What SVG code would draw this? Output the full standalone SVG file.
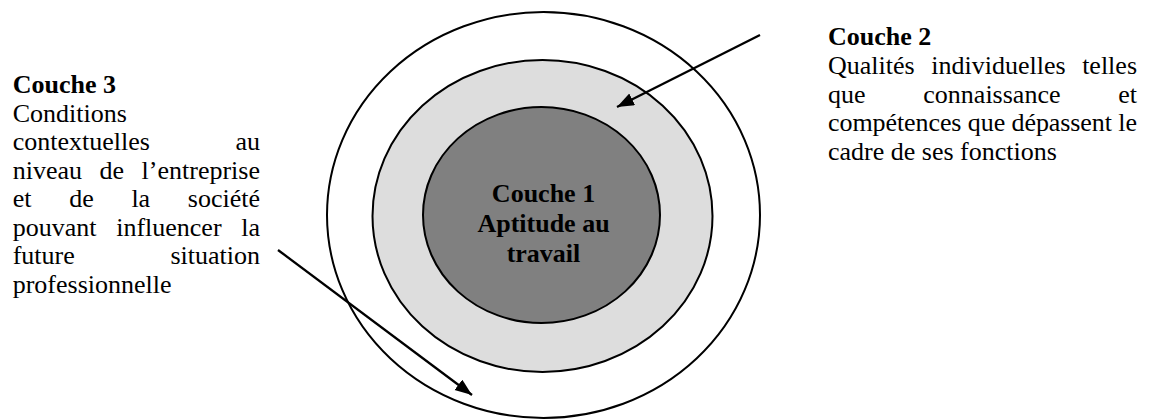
<svg xmlns="http://www.w3.org/2000/svg" width="1156" height="419" viewBox="0 0 1156 419">
  <style>
    .ring { stroke: #000; stroke-width: 2; }
    .txt { font-family: "Liberation Serif", "Times New Roman", serif; font-size: 26px; fill: #000; }
    .b { font-weight: bold; }
    .conn { stroke: #000; stroke-width: 2.3; fill: none; }
  </style>
  <defs>
    <marker id="arrowhead" markerUnits="userSpaceOnUse" markerWidth="18" markerHeight="14" refX="17" refY="6.5" orient="auto">
      <path d="M0,0 L17,6.5 L0,13 Z" fill="#000"/>
    </marker>
  </defs>

  <!-- Layer 3: outer ring -->
  <g id="couche3-ring">
    <ellipse class="ring" cx="543.5" cy="215" rx="216.5" ry="203" fill="#fff"/>
  </g>

  <!-- Layer 2: middle ring -->
  <g id="couche2-ring">
    <ellipse class="ring" cx="542.5" cy="216" rx="170" ry="156" fill="#dddddd"/>
  </g>

  <!-- Layer 1: core -->
  <g id="couche1">
    <ellipse class="ring" cx="541.5" cy="215" rx="118.5" ry="108" fill="#808080"/>
    <text class="txt b" text-anchor="middle" x="543.5" y="202">Couche 1</text>
    <text class="txt b" text-anchor="middle" x="543.5" y="232">Aptitude au</text>
    <text class="txt b" text-anchor="middle" x="543.5" y="262">travail</text>
  </g>

  <!-- Connectors -->
  <g id="connectors">
    <line class="conn" x1="760" y1="35" x2="617" y2="107" marker-end="url(#arrowhead)"/>
    <line class="conn" x1="278" y1="250" x2="472" y2="395" marker-end="url(#arrowhead)"/>
  </g>

  <!-- Layer 3 description (justified block) -->
  <g id="couche3-label" class="txt">
    <text class="b" x="12.7" y="93">Couche 3</text>
    <text x="12.7" y="121.5">Conditions</text>
    <text x="12.7" y="150">contextuelles</text>
    <text x="260" y="150" text-anchor="end">au</text>
    <text x="12.7" y="178.5">niveau</text>
    <text x="99.6" y="178.5">de</text>
    <text x="260" y="178.5" text-anchor="end">l’entreprise</text>
    <text x="12.7" y="207">et</text>
    <text x="69.2" y="207">de</text>
    <text x="131.4" y="207">la</text>
    <text x="260" y="207" text-anchor="end">société</text>
    <text x="12.7" y="235.5">pouvant</text>
    <text x="116.2" y="235.5">influencer</text>
    <text x="260" y="235.5" text-anchor="end">la</text>
    <text x="12.7" y="264">future</text>
    <text x="260" y="264" text-anchor="end">situation</text>
    <text x="12.7" y="292.5">professionnelle</text>
  </g>

  <!-- Layer 2 description (justified block) -->
  <g id="couche2-label" class="txt">
    <text class="b" x="828" y="45">Couche 2</text>
    <text x="828" y="74">Qualités</text>
    <text x="931.3" y="74">individuelles</text>
    <text x="1137" y="74" text-anchor="end">telles</text>
    <text x="828" y="102.5">que</text>
    <text x="923.3" y="102.5">connaissance</text>
    <text x="1137" y="102.5" text-anchor="end">et</text>
    <text x="828" y="131" textLength="309" lengthAdjust="spacing">compétences que dépassent le</text>
    <text x="828" y="159.5">cadre de ses fonctions</text>
  </g>
</svg>
